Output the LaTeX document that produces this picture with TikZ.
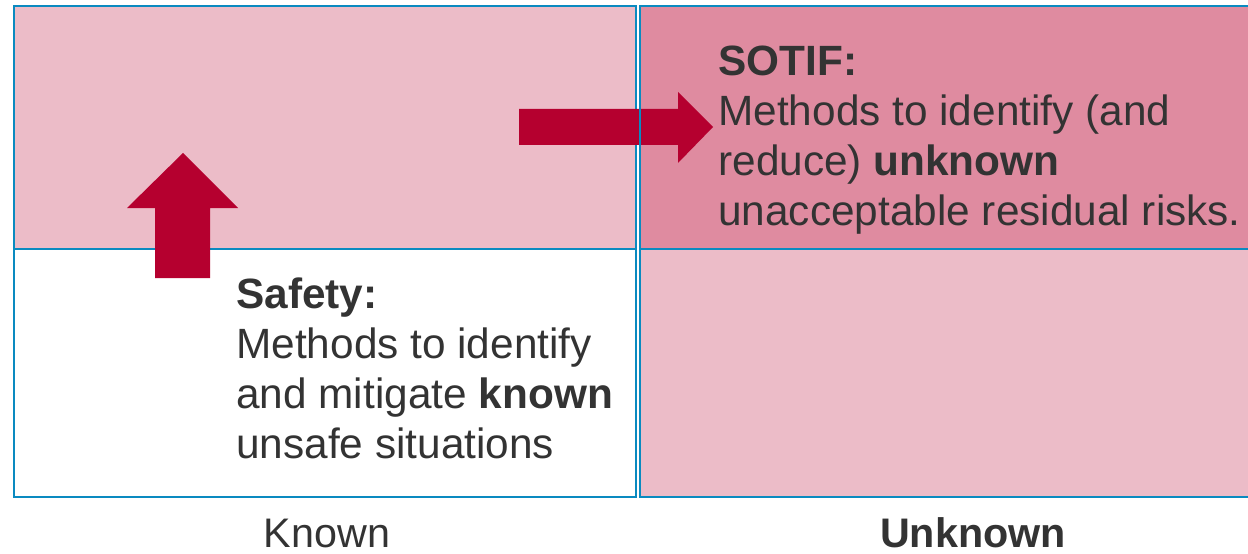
\documentclass[tikz,border=0pt]{standalone}
\usepackage{fontspec}
\setmainfont{Liberation Sans}
\definecolor{pinklight}{HTML}{ECBCC8}
\definecolor{pinkdark}{HTML}{DF8BA0}
\definecolor{arrowred}{HTML}{B5002F}
\definecolor{gridblue}{HTML}{0A8AC0}
\definecolor{textgray}{HTML}{333333}
\tikzset{
  cell/.style={draw=gridblue, line width=1.5pt, rectangle, inner sep=0pt, outer sep=0pt, anchor=north west},
  bodytext/.style={text=textgray, align=left, inner sep=0pt, font=\fontsize{24.1}{28.4}\selectfont},
  axistext/.style={text=textgray, inner sep=0pt, anchor=base, font=\fontsize{23.5}{28.4}\selectfont},
}
\begin{document}
\begin{tikzpicture}[x=0.02cm, y=-0.02cm]
    \useasboundingbox (0,0) rectangle (1248,554);

    % quadrants
    \node[cell, fill=pinklight, minimum width=12.44cm, minimum height=4.86cm] (safetop) at (14,6) {};
    \node[cell, fill=white, minimum width=12.44cm, minimum height=4.96cm] (safebot) at (14,249) {};
    \node[cell, fill=pinkdark, minimum width=12.24cm, minimum height=4.86cm] (sotiftop) at (640,6) {};
    \node[cell, fill=pinklight, minimum width=12.24cm, minimum height=4.96cm] (sotifbot) at (640,249) {};

    % block arrows
    \fill[arrowred] (155,278) -- (155,208) -- (127,208) -- (183,153) -- (238,208) -- (210,208) -- (210,278) -- cycle;
    \fill[arrowred] (519,109) -- (678,109) -- (678,92) -- (713,127) -- (678,163) -- (678,145) -- (519,145) -- cycle;
    \draw[draw=gridblue, line width=1.5pt] (sotiftop.north west) -- (sotiftop.south west);

    % texts (base = last line)
    \node[bodytext, anchor=base west] (sotiftext) at (718,225)
        {\textbf{SOTIF:}\\Methods to identify (and\\reduce) \textbf{unknown}\\unacceptable residual risks.};
    \node[bodytext, anchor=base west] (safetytext) at (236,458)
        {\textbf{Safety:}\\Methods to identify\\and mitigate \textbf{known}\\unsafe situations};
    \node[axistext] (known) at (327,547) {Known};
    \node[axistext] (unknown) at (973,547) {\textbf{Unknown}};
\end{tikzpicture}
\end{document}
